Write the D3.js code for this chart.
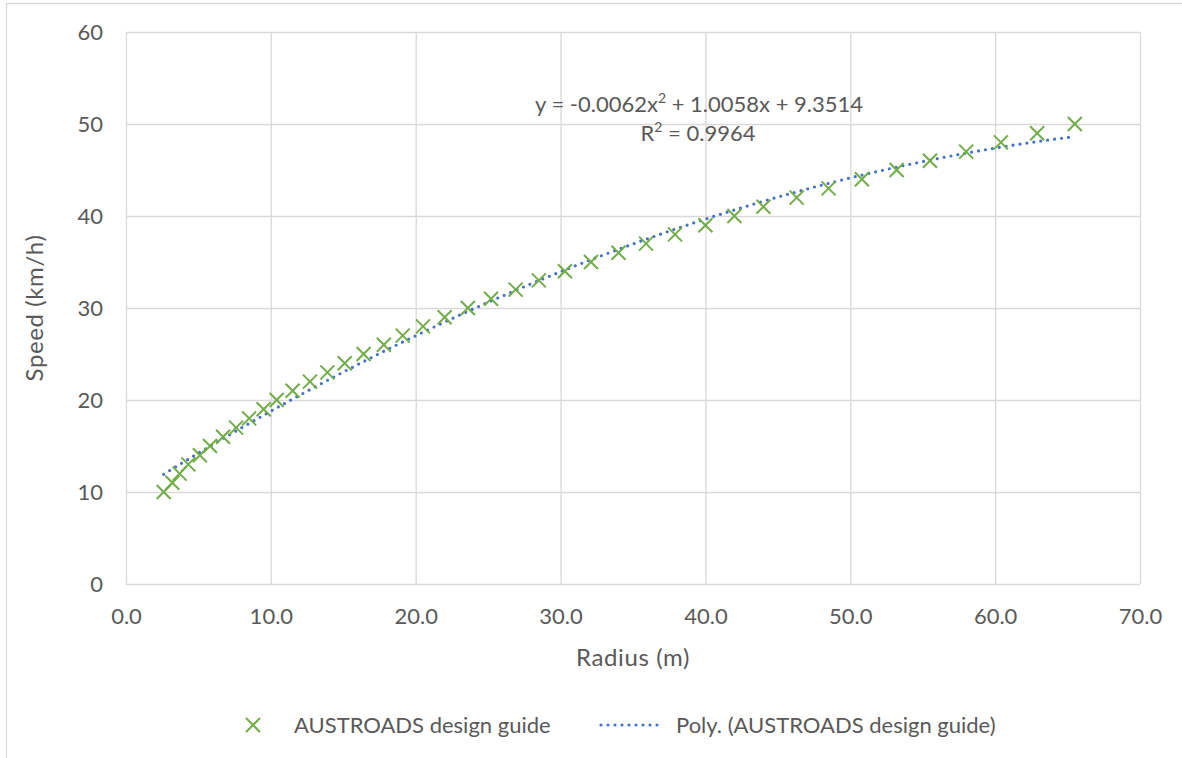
<!DOCTYPE html>
<html><head><meta charset="utf-8">
<script src="https://cdn.jsdelivr.net/npm/d3@7"></script>
<style>
body{margin:0;background:#fff;}
svg text{font-family:Lato,"Open Sans",sans-serif;}
</style>
</head><body>
<svg id="chart" width="1182" height="758"></svg>
<script>
// ---- data ----
const speeds = [10,11,12,13,14,15,16,17,18,19,20,21,22,23,24,25,26,27,28,29,30,31,32,33,34,35,36,37,38,39,40,41,42,43,44,45,46,47,48,49,50];
const radii  = [2.6,3.2,3.7,4.3,5.1,5.8,6.7,7.6,8.5,9.5,10.4,11.5,12.7,13.9,15.1,16.4,17.8,19.1,20.5,22.0,23.6,25.2,26.9,28.5,30.3,32.1,34.0,35.9,37.9,40.0,42.0,44.0,46.3,48.5,50.8,53.2,55.5,58.0,60.4,62.9,65.5];
const xTicks = [0,10,20,30,40,50,60,70];
const yTicks = [0,10,20,30,40,50,60];
const trendCoeffs = [9.3514, 1.0058, -0.0062]; // constant, x, x^2 (shown on chart)
const seriesName = "AUSTROADS design guide";
const trendName = "Poly. (AUSTROADS design guide)";
const xTitle = "Radius (m)";
const yTitle = "Speed (km/h)";
const eqParts = ["y = -0.0062x", "2", " + 1.0058x + 9.3514"];
const r2Parts = ["R", "2", " = 0.9964"];

// ---- layout ----
const svg = d3.select("#chart");
const pLeft = 126, pRight = 1140, pTop = 32, pBottom = 584;
const x = d3.scaleLinear().domain([0,70]).range([pLeft,pRight]);
const y = d3.scaleLinear().domain([0,60]).range([pBottom,pTop]);
const textCol = "#595959", gridCol = "#d9d9d9";
const green = "#70AD47", blue = "#4472C4";
const fs = 22;

// outer chart border
svg.append("path").attr("d","M6.5,758 L6.5,3.5 L1182,3.5").attr("fill","none").attr("stroke",gridCol).attr("stroke-width",1.3);

// grid + axes
const g = svg.append("g");
g.append("g").attr("transform",`translate(0,${pBottom})`)
  .call(d3.axisBottom(x).tickValues(xTicks).tickSize(-(pBottom-pTop)).tickFormat(d=>d.toFixed(1)))
  .call(s=>{ s.select(".domain").remove();
    s.selectAll(".tick line").attr("stroke",gridCol).attr("stroke-width",1.3);
    s.selectAll(".tick text").attr("fill",textCol).attr("font-size",fs).attr("y",40).attr("dy",0); });
g.append("g").attr("transform",`translate(${pLeft},0)`)
  .call(d3.axisLeft(y).tickValues(yTicks).tickSize(-(pRight-pLeft)).tickFormat(d3.format("d")).tickPadding(23))
  .call(s=>{ s.select(".domain").remove();
    s.selectAll(".tick line").attr("stroke",gridCol).attr("stroke-width",1.3);
    s.selectAll(".tick text").attr("fill",textCol).attr("font-size",fs); });

// axis titles
svg.append("text").attr("x",(pLeft+pRight)/2).attr("y",666).attr("text-anchor","middle")
  .attr("fill",textCol).attr("font-size",24).attr("letter-spacing",0.6).text(xTitle);
svg.append("text").attr("transform",`translate(43,${(pTop+pBottom)/2}) rotate(-90)`).attr("text-anchor","middle")
  .attr("fill",textCol).attr("font-size",24).attr("letter-spacing",0.6).text(yTitle);

// trendline
const poly = v => trendCoeffs[0] + trendCoeffs[1]*v + trendCoeffs[2]*v*v;
const xMin = d3.min(radii), xMax = d3.max(radii);
const trendPts = d3.range(0,201).map(i => { const v = xMin + (xMax-xMin)*i/200; return [v, poly(v)]; });
svg.append("path").datum(trendPts)
  .attr("d", d3.line().x(d=>x(d[0])).y(d=>y(d[1])))
  .attr("fill","none").attr("stroke",blue).attr("stroke-width",3.2)
  .attr("stroke-linecap","round").attr("stroke-dasharray","0 7");

// markers
const xMark = s => `M${-s},${-s}L${s},${s}M${-s},${s}L${s},${-s}`;
svg.append("g").selectAll("path").data(speeds.map((s,i)=>[radii[i],s])).join("path")
  .attr("transform",d=>`translate(${x(d[0])},${y(d[1])})`)
  .attr("d",xMark(7)).attr("stroke",green).attr("stroke-width",2).attr("fill","none");

// equation label
function supText(parts, cx, cy){
  const t = svg.append("text").attr("x",cx).attr("y",cy).attr("text-anchor","middle")
    .attr("fill",textCol).attr("font-size",fs);
  t.append("tspan").text(parts[0]);
  t.append("tspan").attr("font-size",14).attr("dy",-9).text(parts[1]);
  t.append("tspan").attr("dy",9).text(parts[2]);
}
supText(eqParts, 699, 112);
supText(r2Parts, 698, 141);

// legend
const ly = 725;
svg.append("path").attr("transform",`translate(253,${ly})`).attr("d",xMark(7))
  .attr("stroke",green).attr("stroke-width",2).attr("fill","none");
svg.append("text").attr("x",294).attr("y",ly).attr("dy","0.35em").attr("fill",textCol).attr("font-size",fs).text(seriesName);
svg.append("line").attr("x1",601).attr("x2",663).attr("y1",ly).attr("y2",ly)
  .attr("stroke",blue).attr("stroke-width",3.2).attr("stroke-linecap","round").attr("stroke-dasharray","0 7");
svg.append("text").attr("x",676).attr("y",ly).attr("dy","0.35em").attr("fill",textCol).attr("font-size",fs).text(trendName);
</script>
</body></html>
